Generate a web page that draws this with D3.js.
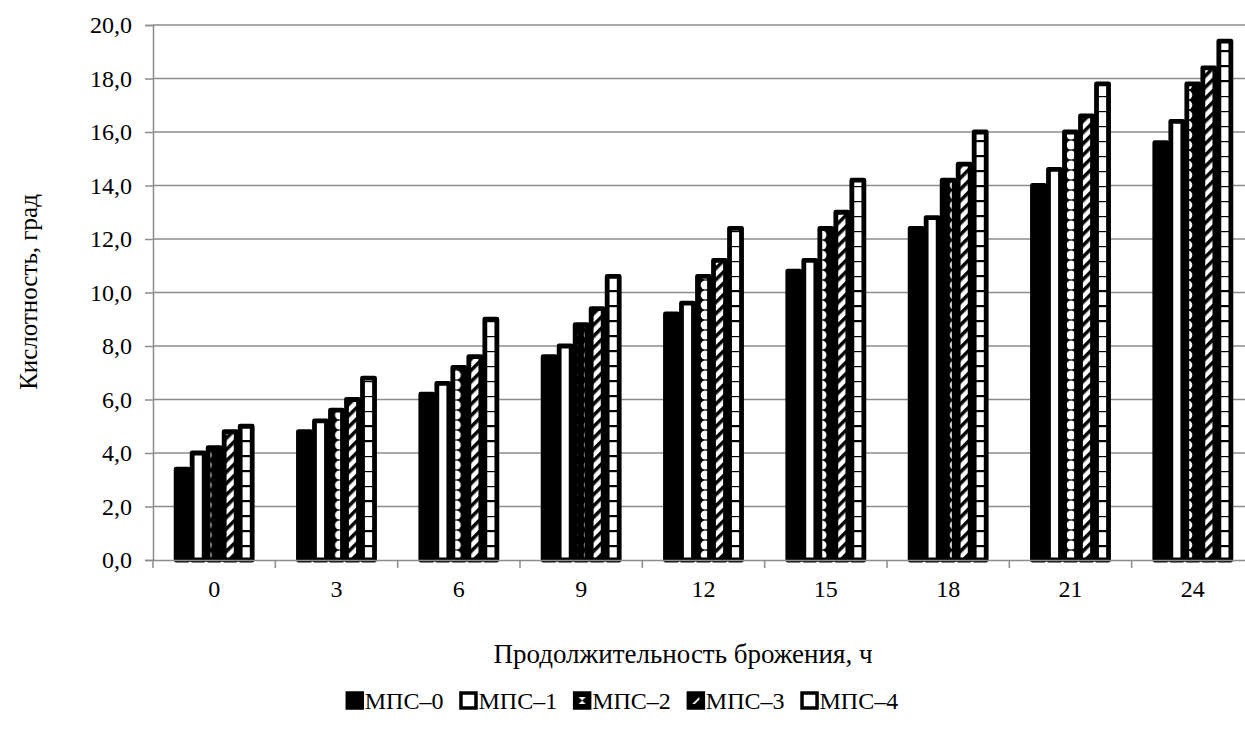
<!DOCTYPE html>
<html><head><meta charset="utf-8">
<script src="https://cdnjs.cloudflare.com/ajax/libs/d3/7.8.5/d3.min.js"></script>
<style>body{margin:0;background:#fff}svg{display:block} text{font-family:"Liberation Serif","Times New Roman","DejaVu Serif",serif;}</style>
</head><body>
<svg id="c" width="1245" height="729"></svg>
<script>
const categories = ["0","3","6","9","12","15","18","21","24"];
const seriesNames = ["МПС–0","МПС–1","МПС–2","МПС–3","МПС–4"];
const mps0 = [3.4,4.8,6.2,7.6,9.2,10.8,12.4,14.0,15.6];
const mps1 = [4.0,5.2,6.6,8.0,9.6,11.2,12.8,14.6,16.4];
const mps2 = [4.2,5.6,7.2,8.8,10.6,12.4,14.2,16.0,17.8];
const mps3 = [4.8,6.0,7.6,9.4,11.2,13.0,14.8,16.6,18.4];
const mps4 = [5.0,6.8,9.0,10.6,12.4,14.2,16.0,17.8,19.4];
const yTicks = [0,2,4,6,8,10,12,14,16,18,20];
const seriesValues = [mps0,mps1,mps2,mps3,mps4];

const svg = d3.select("#c");
const mLeft = 153, mRight = 1254, mTop = 25, mBottom = 560;

const x = d3.scaleBand().domain(categories).range([mLeft,mRight]).padding(0);
const xs = d3.scaleBand().domain(seriesNames).range([0,x.bandwidth()]).paddingInner(0).paddingOuter(1.32);
const y = d3.scaleLinear().domain([0,20]).range([mBottom,mTop]);
const bw = xs.bandwidth();

const defs = svg.append("defs");
// dots pattern (МПС-2), one per category so the dots are centred in each bar
categories.forEach((c,i)=>{
  const px = x(c) + xs(seriesNames[2]);
  const p = defs.append("pattern").attr("id","p2_"+i).attr("patternUnits","userSpaceOnUse")
    .attr("x",px).attr("y",mBottom).attr("width",bw).attr("height",10);
  p.append("rect").attr("width",bw).attr("height",10).attr("fill","#000");
  p.append("circle").attr("cx",bw/2).attr("cy",5).attr("r",4.6).attr("fill","#fff");
});
// diagonal hatch (МПС-3)
const p3 = defs.append("pattern").attr("id","p3").attr("patternUnits","userSpaceOnUse")
  .attr("width",8).attr("height",8).attr("patternTransform","rotate(45)");
p3.append("rect").attr("width",8).attr("height",8).attr("fill","#fff");
p3.append("rect").attr("width",3.5).attr("height",8).attr("fill","#000");
// horizontal lines (МПС-4)
const p4 = defs.append("pattern").attr("id","p4").attr("patternUnits","userSpaceOnUse")
  .attr("y",mBottom).attr("width",16).attr("height",15);
p4.append("rect").attr("width",16).attr("height",15).attr("fill","#fff");
p4.append("rect").attr("y",0).attr("width",16).attr("height",2.2).attr("fill","#000");
const fillFor = (j,i)=> j===0?"#000": j===1?"#fff": j===2?`url(#p2_${i})`: j===3?"url(#p3)":"url(#p4)";

// gridlines
svg.append("g").selectAll("line").data(yTicks.filter(d=>d>0)).join("line")
  .attr("x1",mLeft).attr("x2",mRight).attr("y1",d=>y(d)).attr("y2",d=>y(d))
  .attr("stroke","#8c8c8c").attr("stroke-width",1.5);

// y axis
const yAxis = svg.append("g").attr("transform",`translate(${mLeft},0)`)
  .call(d3.axisLeft(y).tickValues(yTicks).tickSize(8).tickPadding(13)
    .tickFormat(d=>d.toFixed(1).replace(".",",")));
yAxis.attr("font-family",null).attr("font-size",null);
yAxis.select(".domain").attr("stroke","#8c8c8c").attr("stroke-width",1.5);
yAxis.selectAll(".tick line").attr("stroke","#8c8c8c").attr("stroke-width",1.5);
yAxis.selectAll("text").style("font-size","24px").attr("fill","#000");

// bars
const groups = svg.append("g").selectAll("g").data(categories).join("g")
  .attr("transform",d=>`translate(${x(d)},0)`);
groups.selectAll("rect").data((c,i)=>seriesNames.map((s,j)=>({s,j,i,v:seriesValues[j][i]}))).join("rect")
  .attr("x",d=>xs(d.s)+2).attr("width",bw-4)
  .attr("y",d=>y(d.v)).attr("height",d=>mBottom-y(d.v))
  .attr("fill",d=>fillFor(d.j,d.i)).attr("stroke","#000").attr("stroke-width",4.8)
  .attr("stroke-linejoin","round");

// x axis
const xAxis = svg.append("g").attr("transform",`translate(0,${mBottom})`)
  .call(d3.axisBottom(x).tickSize(0).tickPadding(20));
xAxis.attr("font-family",null).attr("font-size",null);
xAxis.select(".domain").attr("stroke","#8c8c8c").attr("stroke-width",1.5);
xAxis.selectAll("text").style("font-size","24px").attr("fill","#000");
svg.append("g").selectAll("line").data(d3.range(categories.length+1)).join("line")
  .attr("x1",i=>mLeft+i*x.step()).attr("x2",i=>mLeft+i*x.step())
  .attr("y1",mBottom).attr("y2",mBottom+8).attr("stroke","#8c8c8c").attr("stroke-width",1.5);

// titles
svg.append("text").attr("x",683).attr("y",663).attr("text-anchor","middle")
  .style("font-size","27px").text("Продолжительность брожения, ч");
svg.append("text").attr("transform","translate(37,292) rotate(-90)").attr("text-anchor","middle")
  .style("font-size","25px").text("Кислотность, град");

// legend
const lg = svg.append("g");
const lp2 = defs.append("pattern").attr("id","lp2").attr("patternUnits","userSpaceOnUse").attr("width",15).attr("height",15).attr("x",1.5).attr("y",-16);
lp2.append("rect").attr("width",15).attr("height",15).attr("fill","#000");
lp2.append("path").attr("d","M4,4 L11,4 L7.5,7.5 L11,11 L4,11 L7.5,7.5 Z").attr("fill","#fff");
const lp3 = defs.append("pattern").attr("id","lp3").attr("patternUnits","userSpaceOnUse").attr("width",15).attr("height",15).attr("x",1.5).attr("y",-16);
lp3.append("rect").attr("width",15).attr("height",15).attr("fill","#000");
lp3.append("path").attr("d","M4,11 L11,4 L11,6.5 L6.5,11 Z").attr("fill","#fff");
const legFills = ["#000","#fff","url(#lp2)","url(#lp3)","#fff"];
let cx = 0;
seriesNames.forEach((s,j)=>{
  const g = lg.append("g").attr("transform",`translate(${cx},0)`);
  g.append("rect").attr("x",1.5).attr("y",-16).attr("width",15).attr("height",15)
    .attr("fill",legFills[j]).attr("stroke","#000").attr("stroke-width",3.5);
  const t = g.append("text").attr("x",19).attr("y",0).style("font-size","24px").text(s);
  const w = t.node().getComputedTextLength();
  cx += 19 + w + 16;
});
const total = cx - 16;
lg.attr("transform",`translate(${622 - total/2},709)`);
</script>
</body></html>
